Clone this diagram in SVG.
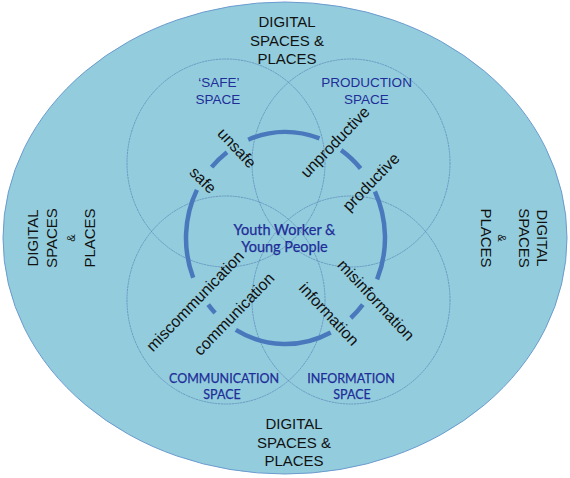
<svg xmlns="http://www.w3.org/2000/svg" width="570" height="478" viewBox="0 0 570 478">
  <style>
    .ring { fill: none; stroke: #5a86b8; stroke-width: 0.9; stroke-opacity: 0.8; stroke-dasharray: 2.2 0.6; }
    .arc { fill: none; stroke: #4a78bd; stroke-width: 4.5; stroke-linecap: butt; }
    .dark { font-family: "Liberation Sans", Arial, sans-serif; fill: #111; }
    .outer { font-size: 15px; text-anchor: middle; }
    .amp { font-size: 11px; text-anchor: middle; }
    .lbl { font-size: 16px; text-anchor: middle; }
    .space { font-family: "Liberation Sans", Arial, sans-serif; font-size: 13.5px; fill: #1f2d98; text-anchor: middle; }
    .cal { font-family: Lato, "Open Sans", sans-serif; fill: #1f2d98; text-anchor: middle; stroke: #1f2d98; stroke-width: 0.25; }
  </style>
  <rect width="570" height="478" fill="#ffffff"/>

  <g id="outer-space">
    <ellipse cx="285" cy="238" rx="282" ry="236" fill="#93cddd" stroke="#6b9bcf" stroke-width="1"/>
    <g class="dark outer">
      <text x="287" y="27">DIGITAL</text>
      <text x="287" y="45.5">SPACES &amp;</text>
      <text x="287" y="64">PLACES</text>
    </g>
    <g class="dark outer">
      <text x="294" y="429">DIGITAL</text>
      <text x="294" y="447.5">SPACES &amp;</text>
      <text x="294" y="466">PLACES</text>
    </g>
    <g class="dark">
      <text class="outer" transform="translate(38,238) rotate(-90)">DIGITAL</text>
      <text class="outer" transform="translate(56.5,238) rotate(-90)">SPACES</text>
      <text class="amp" transform="translate(75,238) rotate(-90)">&amp;</text>
      <text class="outer" transform="translate(94.5,238) rotate(-90)">PLACES</text>
    </g>
    <g class="dark">
      <text class="outer" transform="translate(537,238) rotate(90)">DIGITAL</text>
      <text class="outer" transform="translate(519,238) rotate(90)">SPACES</text>
      <text class="amp" transform="translate(498,238) rotate(90)">&amp;</text>
      <text class="outer" transform="translate(481,238) rotate(90)">PLACES</text>
    </g>
  </g>

  <g id="safe-space">
    <ellipse class="ring" cx="226" cy="163" rx="99" ry="104"/>
    <text class="space" x="219" y="87">‘SAFE’</text>
    <text class="space" x="218" y="104">SPACE</text>
  </g>
  <g id="production-space">
    <ellipse class="ring" cx="351" cy="163" rx="99" ry="104"/>
    <text class="space" x="366.5" y="87">PRODUCTION</text>
    <text class="space" x="366.5" y="104">SPACE</text>
  </g>
  <g id="communication-space">
    <ellipse class="ring" cx="226" cy="300" rx="99" ry="104"/>
    <text class="cal" x="224" y="383" font-size="12.5">COMMUNICATION</text>
    <text class="cal" x="222" y="399" font-size="12.5">SPACE</text>
  </g>
  <g id="information-space">
    <ellipse class="ring" cx="351" cy="300" rx="99" ry="104"/>
    <text class="cal" x="351" y="383" font-size="12.5">INFORMATION</text>
    <text class="cal" x="352" y="399" font-size="12.5">SPACE</text>
  </g>

  <g id="connectors">
    <path class="arc" d="M248.2,139.7 A99.5,106 0 0 1 319.5,138.4"/>
    <path class="arc" d="M341.1,150.1 A99.5,106 0 0 1 360.6,168.5"/>
    <path class="arc" d="M374.9,191.5 A99.5,106 0 0 1 377.1,279.4"/>
    <path class="arc" d="M362.8,304.7 A99.5,106 0 0 1 350.8,318.0"/>
    <path class="arc" d="M330.7,332.4 A99.5,106 0 0 1 235.8,329.8"/>
    <path class="arc" d="M215.1,313.0 A99.5,106 0 0 1 208.2,304.7"/>
    <path class="arc" d="M193.2,277.7 A99.5,106 0 0 1 196.9,189.9"/>
    <path class="arc" d="M211.6,167.1 A99.5,106 0 0 1 227.0,152.2"/>
  </g>

  <g id="arc-labels" class="dark lbl">
    <text transform="translate(237,148) rotate(47)" y="5.5">unsafe</text>
    <text transform="translate(203,180) rotate(45)" y="5.5">safe</text>
    <text transform="translate(335,142) rotate(-46)" y="5.5">unproductive</text>
    <text transform="translate(371,182) rotate(-46)" y="5.5">productive</text>
    <text transform="translate(195,301) rotate(-46)" y="5.5">miscommunication</text>
    <text transform="translate(234,314) rotate(-46)" y="5.5">communication</text>
    <text transform="translate(376,300) rotate(47)" y="5.5">misinformation</text>
    <text transform="translate(329,314) rotate(47)" y="5.5">information</text>
  </g>

  <g id="centre">
    <text class="cal" x="284.5" y="235" font-size="14.5">Youth Worker &amp;</text>
    <text class="cal" x="284.5" y="252" font-size="14.5">Young People</text>
  </g>
</svg>
